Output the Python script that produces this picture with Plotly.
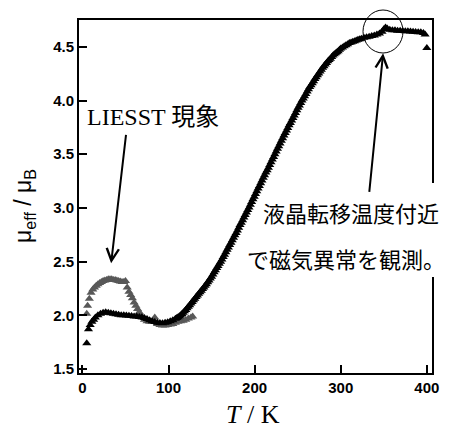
import plotly.graph_objects as go

# Black series: mu_eff vs T (dark)
T_dark = [5, 7, 9, 11, 13, 15, 18, 21, 24, 27, 30, 33, 36, 39, 42, 45, 48, 51, 54, 57,
          60, 63, 66, 69, 72, 75, 78, 81, 84, 87, 90, 93, 96, 99, 102, 105,
          108, 109.5, 111, 112.5, 114, 115.5, 117, 118.5, 120, 121.5, 123, 124.5, 126, 127.5, 129, 130.5,
          132, 133.5, 135, 136.5, 138, 139.5, 141, 142.5, 144, 145.5, 147, 148.5, 150, 151.5, 153, 154.5,
          156, 157.5, 159, 160.5, 162, 163.5, 165, 166.5, 168, 169.5, 171, 172.5, 174, 175.5, 177, 178.5,
          180, 181.5, 183, 184.5, 186, 187.5, 189, 190.5, 192, 193.5, 195, 196.5, 198, 199.5, 201, 202.5,
          204, 205.5, 207, 208.5, 210, 211.5, 213, 214.5, 216, 217.5, 219, 220.5, 222, 223.5, 225, 226.5,
          228, 229.5, 231, 232.5, 234, 235.5, 237, 238.5, 240, 241.5, 243, 244.5, 246, 247.5, 249, 250.5,
          252, 253.5, 255, 256.5, 258, 259.5, 261, 262.5, 264, 265.5, 267, 268.5, 270, 271.5, 273, 274.5,
          276, 277.5, 279, 280.5, 282, 283.5, 285, 286.5, 288, 289.5, 291, 292.5, 294, 295.5, 297, 298.5,
          300, 302, 304, 306, 308, 310, 312, 314, 316, 318, 320, 322, 324, 327, 330, 333, 336, 339, 342, 345,
          348, 350, 352, 354, 357, 360, 363, 366, 369, 372, 375, 378, 381, 384, 387, 390, 393, 396, 398, 400]
mu_dark = [1.74, 1.87, 1.91, 1.94, 1.96, 1.98, 2.00, 2.015, 2.025, 2.028, 2.025, 2.02, 2.015, 2.01, 2.005, 2.00, 2.00, 1.998, 1.995, 1.993,
           1.99, 1.988, 1.985, 1.982, 1.975, 1.965, 1.955, 1.945, 1.938, 1.932, 1.928, 1.927, 1.93, 1.936, 1.945, 1.955,
           1.968, 1.975, 1.983, 1.991, 2.00, 2.012, 2.025, 2.037, 2.05, 2.065, 2.08, 2.095, 2.11, 2.125, 2.14, 2.155,
           2.17, 2.185, 2.20, 2.215, 2.23, 2.245, 2.26, 2.275, 2.29, 2.307, 2.325, 2.342, 2.36, 2.38, 2.40, 2.42,
           2.44, 2.46, 2.48, 2.50, 2.52, 2.542, 2.565, 2.587, 2.61, 2.632, 2.655, 2.677, 2.70, 2.722, 2.745, 2.767,
           2.79, 2.815, 2.84, 2.862, 2.885, 2.91, 2.935, 2.957, 2.98, 3.005, 3.03, 3.055, 3.08, 3.105, 3.13, 3.155,
           3.18, 3.205, 3.23, 3.255, 3.28, 3.305, 3.33, 3.352, 3.375, 3.40, 3.425, 3.45, 3.475, 3.50, 3.525, 3.55,
           3.575, 3.60, 3.625, 3.65, 3.675, 3.697, 3.72, 3.745, 3.77, 3.792, 3.815, 3.837, 3.86, 3.885, 3.91, 3.932,
           3.955, 3.977, 4.00, 4.02, 4.04, 4.062, 4.085, 4.105, 4.125, 4.142, 4.16, 4.18, 4.20, 4.217, 4.235, 4.252,
           4.27, 4.287, 4.305, 4.32, 4.335, 4.35, 4.365, 4.377, 4.39, 4.405, 4.42, 4.43, 4.44, 4.45, 4.46, 4.472,
           4.485, 4.495, 4.505, 4.515, 4.525, 4.535, 4.54, 4.547, 4.553, 4.56, 4.565, 4.57, 4.575, 4.585, 4.59, 4.595, 4.60, 4.605, 4.615, 4.625,
           4.64, 4.665, 4.68, 4.67, 4.66, 4.655, 4.655, 4.65, 4.65, 4.648, 4.645, 4.645, 4.642, 4.64, 4.638, 4.635, 4.635, 4.63, 4.615, 4.49]

# Gray series: after light irradiation (LIESST)
T_light = [5, 6, 8, 10, 12, 14, 16, 18, 20, 22, 24, 26, 28, 30, 32, 34, 36, 38, 40, 42,
           44, 46, 48, 50, 52, 54, 56, 58, 60, 62, 64, 66, 68, 70, 72, 75, 78, 81, 84, 87,
           90, 93, 96, 99, 102, 105, 108, 111, 114, 117, 120, 123, 126, 128]
mu_light = [2.015, 2.09, 2.155, 2.21, 2.24, 2.26, 2.275, 2.29, 2.30, 2.31, 2.32, 2.325, 2.33, 2.335, 2.335, 2.335, 2.33, 2.33, 2.325, 2.32,
            2.315, 2.31, 2.31, 2.32, 2.26, 2.22, 2.19, 2.16, 2.12, 2.09, 2.06, 2.03, 2.00, 1.98, 1.96, 1.945, 1.94, 1.94, 1.98, 1.92,
            1.91, 1.905, 1.905, 1.91, 1.915, 1.92, 1.93, 1.94, 1.945, 1.95, 1.96, 1.97, 1.98, 1.99]

x_ticks = [0, 100, 200, 300, 400]
x_ticklabels = ["0", "100", "200", "300", "400"]
y_ticks = [1.5, 2.0, 2.5, 3.0, 3.5, 4.0, 4.5]
y_ticklabels = ["1.5", "2.0", "2.5", "3.0", "3.5", "4.0", "4.5"]

fig = go.Figure()
fig.add_trace(go.Scatter(x=T_light, y=mu_light, mode="markers",
                         marker=dict(symbol="triangle-up", size=8, color="rgb(88,88,88)"),
                         showlegend=False))
fig.add_trace(go.Scatter(x=T_dark, y=mu_dark, mode="markers",
                         marker=dict(symbol="triangle-up", size=8, color="black"),
                         showlegend=False))

W, H = 453, 430
L, R, TOP, B = 79, 21, 20, 57
pw, ph = W - L - R, H - TOP - B

def px(xp):
    return (xp - L) / pw

def py(yp):
    return (H - B - yp) / ph

tickfont = dict(family="Liberation Sans, Arial", size=15, color="black")
axis_common = dict(ticks="inside", ticklen=8, tickwidth=2, tickcolor="black", showline=True,
                   linecolor="black", linewidth=2, mirror=True, showgrid=False, zeroline=False,
                   tickfont=tickfont)
fig.update_xaxes(range=[-4, 406], tickvals=x_ticks,
                 ticktext=["<b>%s</b>" % t for t in x_ticklabels], **axis_common)
fig.update_yaxes(range=[1.463, 4.75], tickvals=y_ticks,
                 ticktext=["<b>%s</b>" % t for t in y_ticklabels], **axis_common)

def label(xp, yp, text, family, size, angle=0):
    return dict(xref="paper", yref="paper", x=px(xp), y=py(yp), text=text, textangle=angle,
                xanchor="center", yanchor="middle", showarrow=False,
                font=dict(family=family, size=size, color="black"))

annotations = [
    label(24, 206, "μ<sub>eff</sub> / μ<sub>B</sub>", "Liberation Sans, Arial", 23, -90),
    label(253, 414, "<i>T</i> / K", "Liberation Serif, Times New Roman", 26),
    label(153, 117, "LIESST 現象", "Liberation Serif, Noto Sans CJK JP", 24),
    dict(x=33.3, y=2.484, ax=50.8, ay=3.695, axref="x", ayref="y", xref="x", yref="y", text="",
         showarrow=True, arrowhead=5, arrowsize=1.2, arrowwidth=2, arrowcolor="black"),
    label(351, 212, "液晶転移温度付近", "Noto Sans CJK JP", 22),
    label(346, 258, "で磁気異常を観測。", "Noto Sans CJK JP", 22),
    dict(x=349.2, y=4.44, ax=333, ay=3.136, axref="x", ayref="y", xref="x", yref="y", text="",
         showarrow=True, arrowhead=5, arrowsize=1.2, arrowwidth=2, arrowcolor="black"),
]

shapes = [
    dict(type="circle", xref="paper", yref="paper", x0=px(363), x1=px(403), y0=py(53), y1=py(10),
         line=dict(color="black", width=1)),
    dict(type="rect", xref="paper", yref="paper", x0=px(427), x1=px(438), y0=py(277), y1=py(183),
         fillcolor="white", line=dict(width=0), layer="above"),
]

fig.update_layout(width=W, height=H, margin=dict(l=L, r=R, t=TOP, b=B, pad=0),
                  plot_bgcolor="white", paper_bgcolor="white",
                  annotations=annotations, shapes=shapes)

fig.write_html("out.html", config={"displayModeBar": False},
               post_script="document.body.style.margin='0px';")
